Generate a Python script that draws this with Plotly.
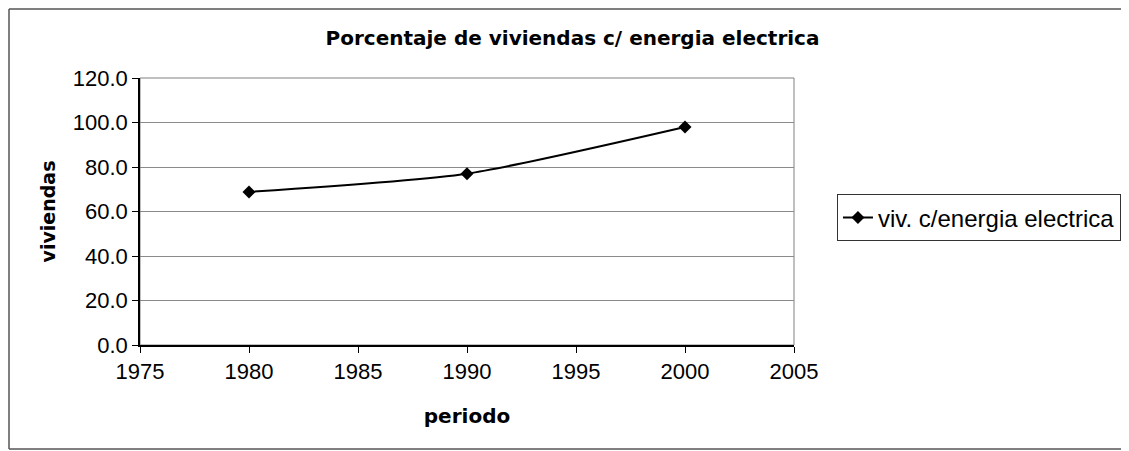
import plotly.graph_objects as go

# datos
periodo = [1980, 1990, 2000]
viviendas = [68.8, 77.0, 98.0]
x_ticks = [1975, 1980, 1985, 1990, 1995, 2000, 2005]
y_ticks = [0, 20, 40, 60, 80, 100, 120]

fnt = "Liberation Sans, Arial, sans-serif"
fnt_b = "DejaVu Sans, sans-serif"

fig = go.Figure()

fig.add_trace(go.Scatter(x=periodo, y=viviendas,
                         mode="lines+markers",
                         name="viv. c/energia electrica",
                         line=dict(color="black", width=2, shape="spline", smoothing=0.6),
                         marker=dict(symbol="diamond", size=10, color="black")))

# marco exterior del grafico (izquierda, arriba, abajo) y borde del area de trazado
marco = dict(color="#555555", width=1.5)
fig.add_shape(type="line", xref="paper", yref="paper",
              x0=-0.2003, x1=-0.2003, y0=-0.3895, y1=1.2584, line=marco, layer="below")
fig.add_shape(type="line", xref="paper", yref="paper",
              x0=-0.2003, x1=1.7, y0=1.2584, y1=1.2584, line=marco, layer="below")
fig.add_shape(type="line", xref="paper", yref="paper",
              x0=-0.2003, x1=1.7, y0=-0.3895, y1=-0.3895, line=marco, layer="below")
fig.add_shape(type="rect", xref="paper", yref="paper",
              x0=0, x1=1, y0=0, y1=1,
              line=dict(color="#808080", width=1), layer="below")

fig.update_xaxes(range=[1975, 2005], tickvals=x_ticks,
                 showgrid=False, zeroline=False,
                 showline=True, linecolor="black", linewidth=1.5,
                 ticks="outside", ticklen=6, tickcolor="black",
                 tickfont=dict(family=fnt, size=22, color="black"),
                 title=dict(text="<b>periodo</b>", standoff=26,
                            font=dict(family=fnt_b, size=20, color="black")))

fig.update_yaxes(range=[0, 120], tickvals=y_ticks, tickformat=".1f",
                 showgrid=True, gridcolor="#8a8a8a", gridwidth=1,
                 zeroline=False,
                 showline=True, linecolor="black", linewidth=1.5,
                 ticks="outside", ticklen=6, tickcolor="black",
                 tickfont=dict(family=fnt, size=22, color="black"),
                 title=dict(text="<b>viviendas</b>", standoff=12,
                            font=dict(family=fnt_b, size=19, color="black")))

fig.update_layout(
    width=1129, height=451,
    margin=dict(l=132, r=343, t=70, b=114),
    paper_bgcolor="white", plot_bgcolor="white",
    title=dict(text="<b>Porcentaje de viviendas c/ energia electrica</b>",
               x=0.5, xanchor="center", y=0.933, yanchor="middle",
               font=dict(family=fnt_b, size=20, color="black")),
    showlegend=True,
    legend=dict(x=1.0657, xanchor="left", y=0.4757, yanchor="middle",
                bordercolor="#333333", borderwidth=1, bgcolor="white",
                font=dict(family=fnt, size=24, color="black"),
                itemwidth=30),
)

fig.write_html("out.html")
